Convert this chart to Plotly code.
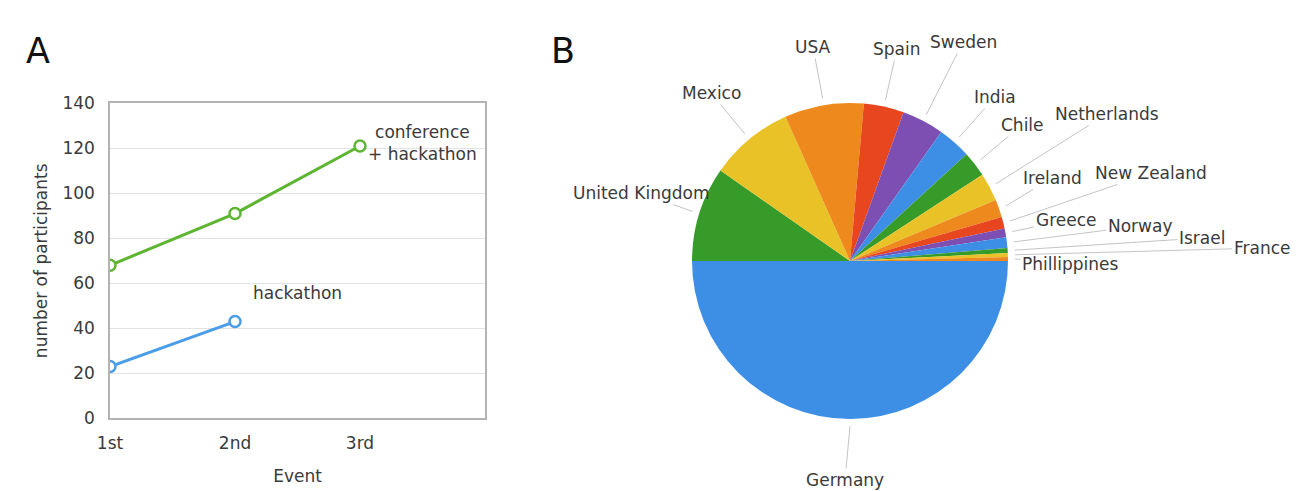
import math
import plotly.graph_objects as go

W, H = 1298, 491

# ---------------- data: panel A ----------------
events = ["1st", "2nd", "3rd"]
conf_hack = [68, 91, 121]
hack_only = [23, 43]

# ---------------- data: panel B ----------------
countries = ["Germany", "United Kingdom", "Mexico", "USA", "Spain", "Sweden", "India",
             "Chile", "Netherlands", "Ireland", "New Zealand", "Greece", "Norway",
             "Israel", "France", "Phillippines"]
shares = [50.0, 9.7, 8.6, 8.1, 4.1, 4.3, 3.4, 2.6, 2.9, 1.8, 1.2, 0.9, 1.1, 0.5, 0.4, 0.4]

# ---------------- styles ----------------
FONT = "DejaVu Sans"
TXT = "#3a3a3a"
cycle = ["#3d8fe6", "#379b2a", "#e9c228", "#ee8a1d", "#e8461f", "#7d4fb3"]
slice_colors = [cycle[i % 6] for i in range(len(countries))]

# pie geometry (pixels)
PCX, PCY, PR = 850, 261, 158
# label centre positions (pixels)
label_pos = {
    "Germany": (845, 480), "United Kingdom": (641, 193), "Mexico": (711, 93),
    "USA": (813, 47), "Spain": (897, 49), "Sweden": (963, 42), "India": (995, 97),
    "Chile": (1022, 125), "Netherlands": (1107, 114), "Ireland": (1052, 178),
    "New Zealand": (1151, 173), "Greece": (1066, 220), "Norway": (1140, 226),
    "Israel": (1202, 238), "France": (1262, 248), "Phillippines": (1070, 264),
}

# plot-area geometry for panel A (pixels)
AX_L, AX_R, AX_T, AX_B = 110, 485, 103.3, 418.3

fig = go.Figure()

fig.add_trace(go.Scatter(
    x=list(range(len(conf_hack))), y=conf_hack, mode="lines+markers",
    line=dict(color="#5db532", width=3),
    marker=dict(symbol="circle", size=11, color="white", line=dict(color="#5db532", width=2.5)),
    showlegend=False, xaxis="x", yaxis="y"))
fig.add_trace(go.Scatter(
    x=list(range(len(hack_only))), y=hack_only, mode="lines+markers",
    line=dict(color="#4a9de8", width=3),
    marker=dict(symbol="circle", size=11, color="white", line=dict(color="#4a9de8", width=2.5)),
    showlegend=False, xaxis="x", yaxis="y"))

pdx = [(PCX - PR) / W, (PCX + PR) / W]
pdy = [1 - (PCY + PR) / H, 1 - (PCY - PR) / H]
fig.add_trace(go.Pie(
    labels=countries, values=shares, sort=False, direction="clockwise", rotation=90,
    marker=dict(colors=slice_colors, line=dict(width=0)),
    textinfo="none", hoverinfo="label+percent", showlegend=False,
    domain=dict(x=pdx, y=pdy)))

annotations = []
# pie labels with leader lines computed from the slice mid-angles
total = sum(shares)
cum = 0.0
for name, v in zip(countries, shares):
    mid = -(cum + v / 2) / total * 360.0
    cum += v
    a = math.radians(mid)
    gap = 7
    hx = PCX + (PR + gap) * math.cos(a)
    hy = PCY - (PR + gap) * math.sin(a)
    lx, ly = label_pos[name]
    annotations.append(dict(
        x=hx / W, y=1 - hy / H, xref="paper", yref="paper",
        text=name, showarrow=True, arrowhead=0, arrowwidth=1, arrowcolor="#c4c4c4",
        ax=lx - hx, ay=ly - hy, standoff=0,
        font=dict(family=FONT, size=17, color=TXT)))

# line labels
annotations.append(dict(x=2.5, y=122.2, xref="x", yref="y", showarrow=False,
                        text="conference<br>+ hackathon", align="center",
                        font=dict(family=FONT, size=17, color=TXT)))
annotations.append(dict(x=1.5, y=55.7, xref="x", yref="y", showarrow=False,
                        text="hackathon", font=dict(family=FONT, size=17, color=TXT)))
# panel letters
annotations.append(dict(x=24 / W, y=1 - 29 / H, xref="paper", yref="paper", showarrow=False,
                        text="A", font=dict(family=FONT, size=35, color="#111")))
annotations.append(dict(x=563 / W, y=1 - 29 / H, xref="paper", yref="paper", showarrow=False,
                        text="B", font=dict(family=FONT, size=35, color="#111")))

fig.update_layout(
    width=W, height=H, margin=dict(l=0, r=0, t=0, b=0),
    paper_bgcolor="white", plot_bgcolor="white",
    font=dict(family=FONT, color=TXT),
    annotations=annotations,
    xaxis=dict(domain=[AX_L / W, AX_R / W], range=[0, 3], tickvals=[0, 1, 2], ticktext=events,
               showgrid=False, zeroline=False, showline=True, linecolor="#b3b3b3", linewidth=1.5,
               mirror=True, ticks="outside", ticklen=9, tickcolor="rgba(0,0,0,0)",
               tickfont=dict(family=FONT, size=17, color=TXT), automargin=False,
               title=dict(text="Event", font=dict(family=FONT, size=17, color=TXT), standoff=18)),
    yaxis=dict(domain=[1 - AX_B / H, 1 - AX_T / H], range=[0, 140], dtick=20,
               showgrid=True, gridcolor="#e2e2e2", gridwidth=1, zeroline=False,
               showline=True, linecolor="#b3b3b3", linewidth=1.5, mirror=True,
               ticks="outside", ticklen=10, tickcolor="rgba(0,0,0,0)",
               tickfont=dict(family=FONT, size=17, color=TXT), automargin=False,
               title=dict(text="number of participants", font=dict(family=FONT, size=17, color=TXT),
                          standoff=10)),
)

fig.write_html("out.html")
